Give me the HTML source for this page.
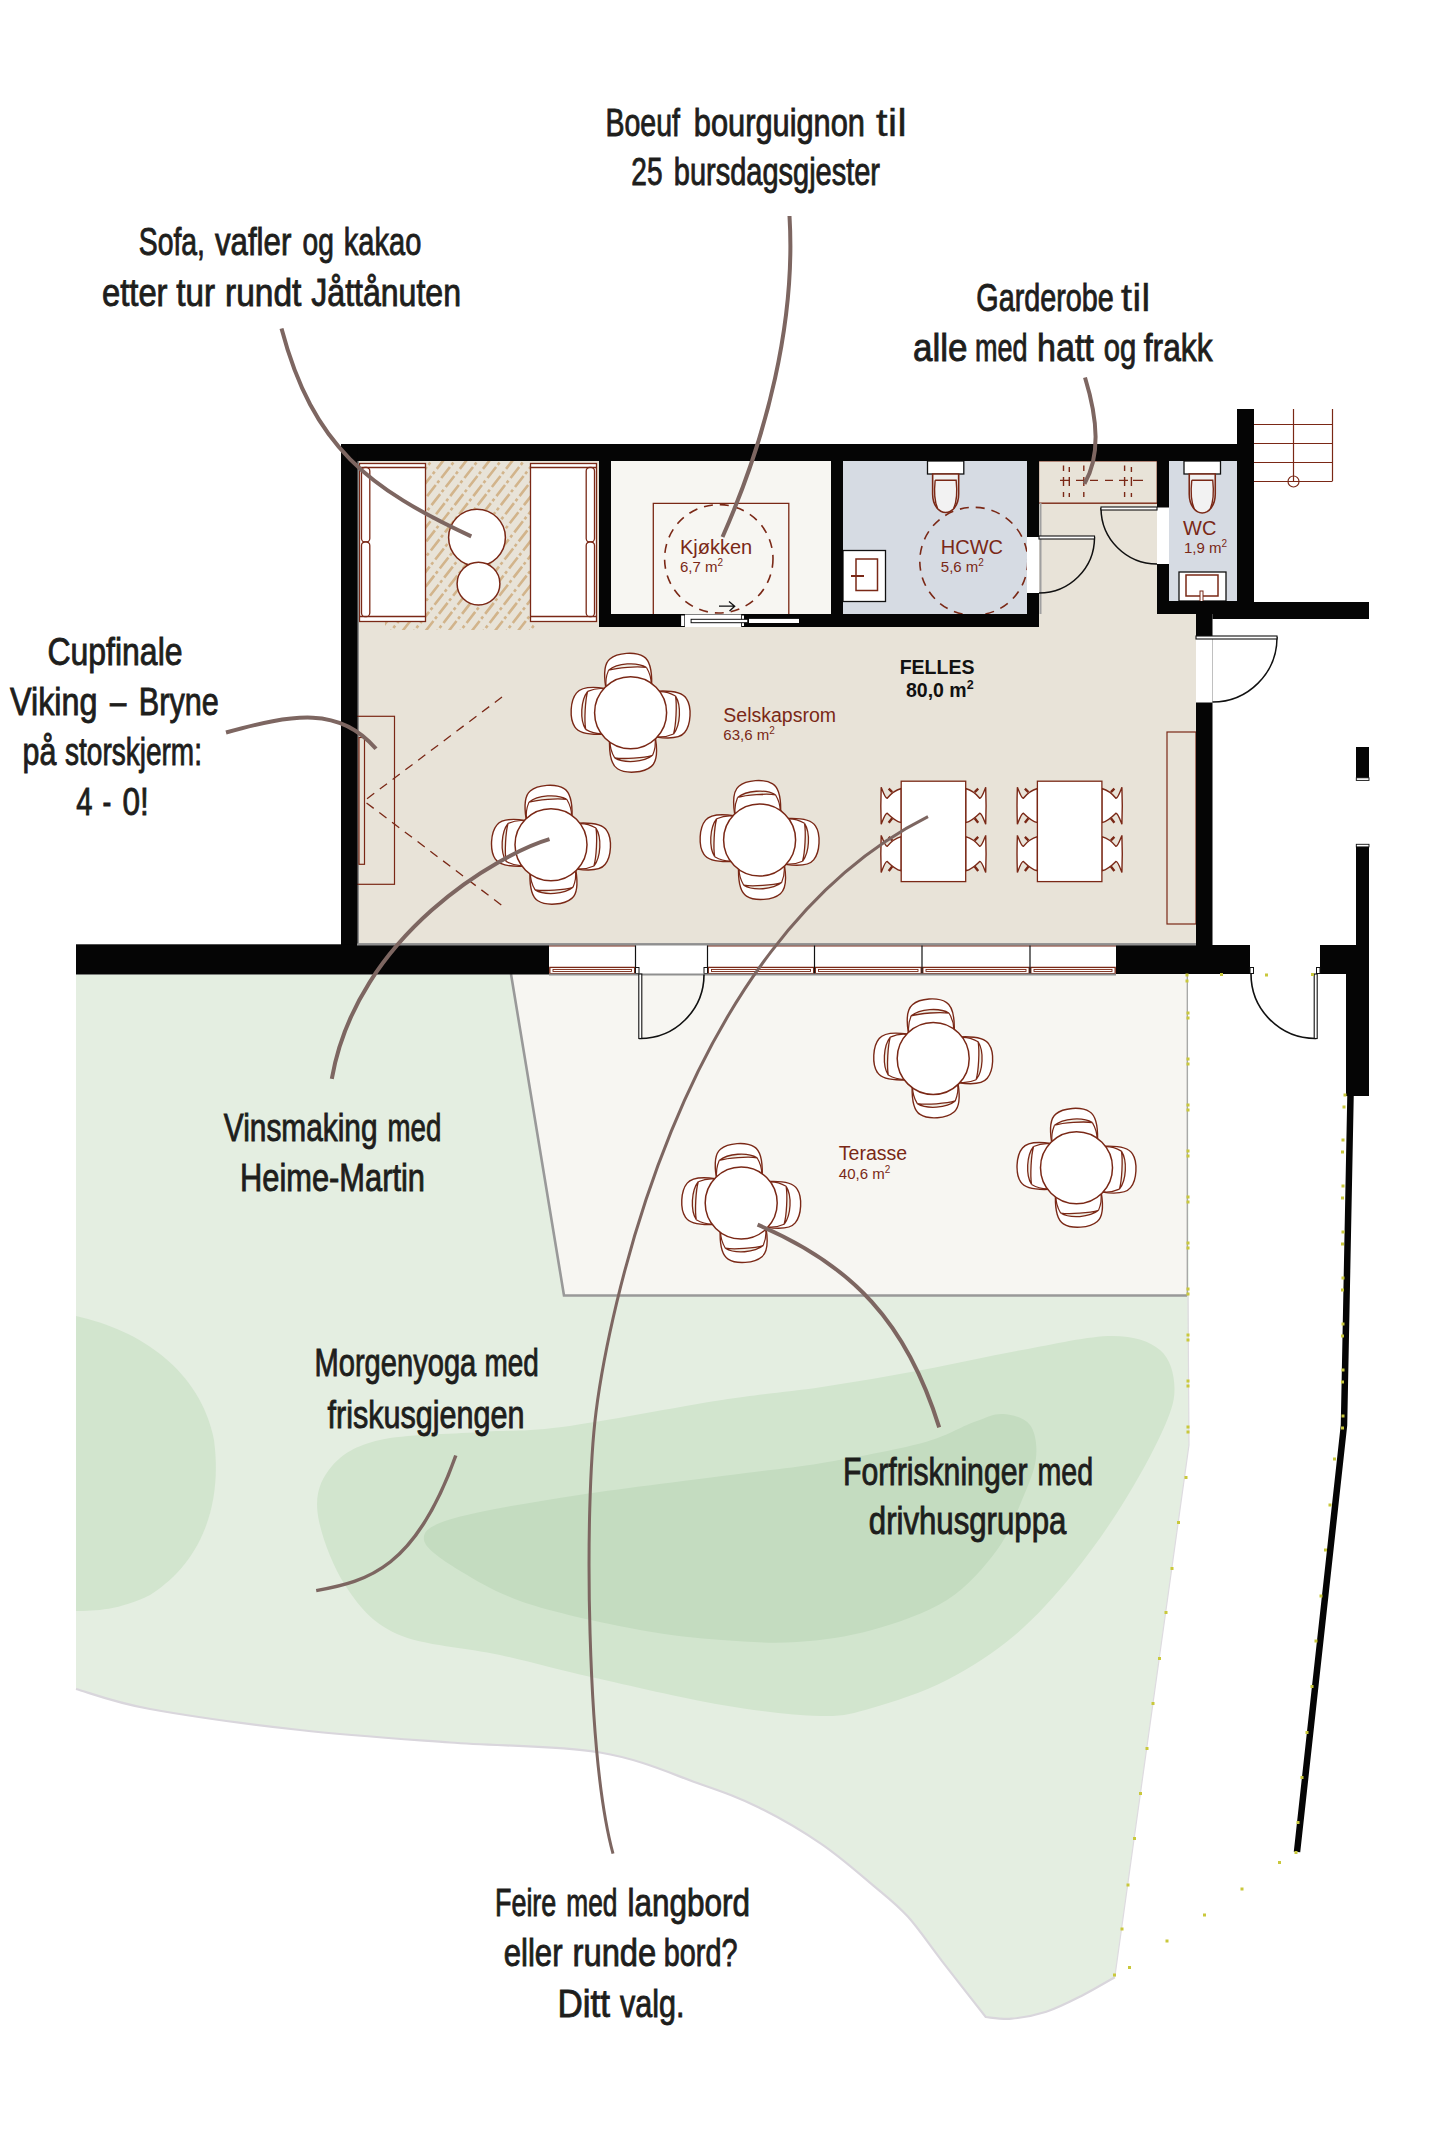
<!DOCTYPE html>
<html><head><meta charset="utf-8"><title>Plan</title>
<style>html,body{margin:0;padding:0;background:#fff;width:1444px;height:2134px;overflow:hidden}svg{display:block}</style>
</head><body>
<svg width="1444" height="2134" viewBox="0 0 1444 2134"><path d="M76,974.5 L1188,974.5 L1189,1445 L1114.8,1977.2  C1109.2,1980.4 1092.3,1990.4 1080.9,1996.2 C1069.5,2002.0 1057.8,2008.0 1046.3,2011.8 C1034.8,2015.5 1021.7,2017.8 1011.6,2018.7 C1001.5,2019.6 990.0,2017.3 985.7,2017.0 L985.7,2017.0 C978.5,2007.8 955.4,1978.3 942.4,1961.6 C929.4,1944.9 919.3,1929.3 907.8,1916.6 C896.2,1903.9 887.5,1897.5 873.1,1885.4 C858.7,1873.3 840.2,1856.9 821.2,1843.9 C802.2,1830.9 779.1,1817.5 758.9,1807.5 C738.7,1797.5 726.5,1793.2 700.0,1784.0 C673.5,1774.8 641.7,1759.4 600.0,1752.5 C558.3,1745.6 500.0,1746.2 450.0,1742.5 C400.0,1738.8 350.0,1735.6 300.0,1730.0 C250.0,1724.4 187.3,1715.8 150.0,1709.0 C112.7,1702.2 88.3,1692.3 76.0,1689.0 Z" fill="#e4eee1"/>
<path d="M1114.8,1977.2 C1109.2,1980.4 1092.3,1990.4 1080.9,1996.2 C1069.5,2002.0 1057.8,2008.0 1046.3,2011.8 C1034.8,2015.5 1021.7,2017.8 1011.6,2018.7 C1001.5,2019.6 990.0,2017.3 985.7,2017.0 L985.7,2017.0 C978.5,2007.8 955.4,1978.3 942.4,1961.6 C929.4,1944.9 919.3,1929.3 907.8,1916.6 C896.2,1903.9 887.5,1897.5 873.1,1885.4 C858.7,1873.3 840.2,1856.9 821.2,1843.9 C802.2,1830.9 779.1,1817.5 758.9,1807.5 C738.7,1797.5 726.5,1793.2 700.0,1784.0 C673.5,1774.8 641.7,1759.4 600.0,1752.5 C558.3,1745.6 500.0,1746.2 450.0,1742.5 C400.0,1738.8 350.0,1735.6 300.0,1730.0 C250.0,1724.4 187.3,1715.8 150.0,1709.0 C112.7,1702.2 88.3,1692.3 76.0,1689.0" fill="none" stroke="#d9d6dc" stroke-width="2.2"/>
<path d="M1188,1295 L1189,1445 L1114.8,1977.2" fill="none" stroke="#dedbe0" stroke-width="1.2"/>
<path d="M76,1316 C140,1330 200,1370 214,1440 C222,1500 205,1560 150,1595 C120,1610 95,1611 76,1611 Z" fill="#d2e5ce"/>
<path d="M317.5,1512.0 C315.3,1492.2 321.6,1478.0 332.0,1466.0 C342.4,1454.0 355.3,1445.7 380.0,1440.0 C404.7,1434.3 449.7,1434.2 480.0,1432.0 C510.3,1429.8 521.7,1432.3 562.0,1427.0 C602.3,1421.7 678.7,1406.7 722.0,1400.0 C765.3,1393.3 788.7,1392.0 822.0,1387.0 C855.3,1382.0 888.7,1376.2 922.0,1370.0 C955.3,1363.8 990.3,1355.7 1022.0,1350.0 C1053.7,1344.3 1089.0,1336.0 1112.0,1336.0 C1135.0,1336.0 1149.6,1341.3 1160.0,1350.0 C1170.4,1358.7 1174.2,1374.3 1174.5,1388.0 C1174.8,1401.7 1170.8,1412.5 1162.0,1432.0 C1153.2,1451.5 1137.0,1481.2 1122.0,1505.0 C1107.0,1528.8 1089.8,1553.3 1072.0,1575.0 C1054.2,1596.7 1035.8,1617.5 1015.0,1635.0 C994.2,1652.5 970.8,1667.8 947.0,1680.0 C923.2,1692.2 893.2,1702.0 872.0,1708.0 C850.8,1714.0 845.0,1716.5 820.0,1716.0 C795.0,1715.5 760.2,1711.5 722.0,1705.0 C683.8,1698.5 628.0,1685.3 591.0,1677.0 C554.0,1668.7 532.3,1662.2 500.0,1655.0 C467.7,1647.8 422.8,1645.7 397.0,1634.0 C371.2,1622.3 358.2,1605.3 345.0,1585.0 C331.8,1564.7 319.7,1531.8 317.5,1512.0 Z" fill="#d2e5ce"/>
<path d="M424.0,1540.0 C422.8,1531.0 429.2,1525.5 455.0,1518.0 C480.8,1510.5 531.7,1502.3 579.0,1495.0 C626.3,1487.7 698.1,1479.3 738.6,1474.0 C779.1,1468.7 791.4,1468.2 822.0,1463.0 C852.6,1457.8 896.7,1449.8 922.0,1443.0 C947.3,1436.2 960.5,1426.8 974.0,1422.0 C987.5,1417.2 993.7,1413.5 1003.0,1414.0 C1012.3,1414.5 1024.5,1417.7 1030.0,1425.0 C1035.5,1432.3 1037.3,1445.5 1036.0,1458.0 C1034.7,1470.5 1028.5,1484.7 1022.0,1500.0 C1015.5,1515.3 1009.5,1533.3 997.0,1550.0 C984.5,1566.7 967.8,1586.7 947.0,1600.0 C926.2,1613.3 897.0,1623.0 872.0,1630.0 C847.0,1637.0 822.0,1640.3 797.0,1642.0 C772.0,1643.7 748.2,1642.0 722.0,1640.0 C695.8,1638.0 672.2,1636.0 640.0,1630.0 C607.8,1624.0 558.7,1613.7 529.0,1604.0 C499.3,1594.3 479.5,1582.7 462.0,1572.0 C444.5,1561.3 425.2,1549.0 424.0,1540.0 Z" fill="#c4dcc0"/>
<path d="M511,974 L1187,974 L1187,1295.5 L564,1295.5 Z" fill="#f7f6f2"/>
<path d="M511,974 L564,1295.5 L1187,1295.5" fill="none" stroke="#999" stroke-width="2.6"/>
<path d="M1187.3,974 L1187.3,1295.5" fill="none" stroke="#a5a5a5" stroke-width="1.3"/>
<path d="M357,461 L599,461 L599,627 L1039,627 L1039,461 L1157,461 L1157,614 L1196,614 L1196,944 L357,944 Z" fill="#e8e3d8"/>
<rect x="611" y="461" width="220" height="153" fill="#f7f6f2" />
<rect x="843" y="461" width="184" height="153" fill="#d6dbe3" />
<rect x="1169" y="461" width="68" height="140" fill="#d6dbe3" />
<line x1="357" y1="944" x2="1196" y2="944" stroke="#9a9a9a" stroke-width="2"/>
<defs><clipPath id="rugclip"><path d="M425,461 L531,461 L531,621 L537,630 L385,630 L385,621 L425,621 Z"/></clipPath></defs>
<g clip-path="url(#rugclip)" stroke="#d2b48b" stroke-width="2.6" stroke-dasharray="14 2.6 3 3.4" fill="none"><path d="M240.0,632 L375.2,459" stroke-dashoffset="0.0"/><path d="M251.6,632 L386.8,459" stroke-dashoffset="11.5"/><path d="M263.1,632 L398.3,459" stroke-dashoffset="0.0"/><path d="M274.7,632 L409.9,459" stroke-dashoffset="11.5"/><path d="M286.2,632 L421.4,459" stroke-dashoffset="0.0"/><path d="M297.8,632 L433.0,459" stroke-dashoffset="11.5"/><path d="M309.3,632 L444.5,459" stroke-dashoffset="0.0"/><path d="M320.9,632 L456.1,459" stroke-dashoffset="11.5"/><path d="M332.4,632 L467.6,459" stroke-dashoffset="0.0"/><path d="M344.0,632 L479.2,459" stroke-dashoffset="11.5"/><path d="M355.5,632 L490.7,459" stroke-dashoffset="0.0"/><path d="M367.1,632 L502.3,459" stroke-dashoffset="11.5"/><path d="M378.6,632 L513.8,459" stroke-dashoffset="0.0"/><path d="M390.2,632 L525.4,459" stroke-dashoffset="11.5"/><path d="M401.7,632 L536.9,459" stroke-dashoffset="0.0"/><path d="M413.3,632 L548.5,459" stroke-dashoffset="11.5"/><path d="M424.8,632 L560.0,459" stroke-dashoffset="0.0"/><path d="M436.4,632 L571.6,459" stroke-dashoffset="11.5"/><path d="M447.9,632 L583.1,459" stroke-dashoffset="0.0"/><path d="M459.5,632 L594.7,459" stroke-dashoffset="11.5"/><path d="M471.0,632 L606.2,459" stroke-dashoffset="0.0"/><path d="M482.6,632 L617.8,459" stroke-dashoffset="11.5"/><path d="M494.1,632 L629.3,459" stroke-dashoffset="0.0"/><path d="M505.7,632 L640.9,459" stroke-dashoffset="11.5"/><path d="M517.2,632 L652.4,459" stroke-dashoffset="0.0"/><path d="M528.8,632 L664.0,459" stroke-dashoffset="11.5"/><path d="M540.3,632 L675.5,459" stroke-dashoffset="0.0"/><path d="M551.9,632 L687.1,459" stroke-dashoffset="11.5"/></g>
<rect x="359.5" y="463.5" width="66.0" height="158" fill="#fff" stroke="#7a2816" stroke-width="1.3"/>
<path d="M359.5,467.5 L425.5,467.5 M359.5,616.5 L425.5,616.5" stroke="#7a2816" stroke-width="1.3"/>
<rect x="361.5" y="467.5" width="8.3" height="74.5" rx="3.5" fill="#fff" stroke="#7a2816" stroke-width="1.3"/>
<rect x="361.5" y="542" width="8.3" height="74.5" rx="3.5" fill="#fff" stroke="#7a2816" stroke-width="1.3"/>
<rect x="530.5" y="463.5" width="66.0" height="158" fill="#fff" stroke="#7a2816" stroke-width="1.3"/>
<path d="M530.5,467.5 L596.5,467.5 M530.5,616.5 L596.5,616.5" stroke="#7a2816" stroke-width="1.3"/>
<rect x="586.2" y="467.5" width="8.3" height="74.5" rx="3.5" fill="#fff" stroke="#7a2816" stroke-width="1.3"/>
<rect x="586.2" y="542" width="8.3" height="74.5" rx="3.5" fill="#fff" stroke="#7a2816" stroke-width="1.3"/>
<rect x="357" y="461" width="2" height="483" fill="#8f8f8f"/>
<circle cx="477" cy="537.6" r="28.4" fill="#fff" stroke="#7a2816" stroke-width="1.5"/>
<circle cx="478.5" cy="583.7" r="21.4" fill="#fff" stroke="#7a2816" stroke-width="1.5"/>
<path d="M653.3,614 L653.3,503.3 L788.8,503.3 L788.8,614" fill="none" stroke="#7a2816" stroke-width="1.3"/>
<circle cx="718.8" cy="558.8" r="54.2" fill="none" stroke="#7a2816" stroke-width="1.6" stroke-dasharray="9 7"/>
<path d="M719,606.2 L734.7,606.2 M729,601.5 L734.7,606.2 L729.5,611" fill="none" stroke="#111" stroke-width="1.3"/>
<circle cx="973.8" cy="561.3" r="54" fill="none" stroke="#7a2816" stroke-width="1.6" stroke-dasharray="9 7"/>
<rect x="927.5" y="461" width="36.3" height="13" fill="#fff" stroke="#111" stroke-width="1.3" />
<path d="M932.65,474 L932.65,494 C932.65,505 938.65,512.5 945.65,512.5 C952.65,512.5 958.65,505 958.65,494 L958.65,474 Z" fill="#f2f2f2" stroke="#7a2816" stroke-width="1.6"/>
<path d="M935.15,480.3 L956.15,480.3 C957.15,490 957.65,500 953.65,508.5 M935.15,480.3 C934.15,490 933.65,500 937.65,508.5" fill="none" stroke="#7a2816" stroke-width="1.4"/>
<rect x="1184" y="461" width="36.5" height="13" fill="#fff" stroke="#111" stroke-width="1.3" />
<path d="M1189.25,474 L1189.25,494 C1189.25,505 1195.25,513 1202.25,513 C1209.25,513 1215.25,505 1215.25,494 L1215.25,474 Z" fill="#f2f2f2" stroke="#7a2816" stroke-width="1.6"/>
<path d="M1191.75,480.3 L1212.75,480.3 C1213.75,490 1214.25,500 1210.25,509 M1191.75,480.3 C1190.75,490 1190.25,500 1194.25,509" fill="none" stroke="#7a2816" stroke-width="1.4"/>
<rect x="843" y="550.5" width="42.5" height="51.0" fill="#fff" stroke="#111" stroke-width="1.3" />
<rect x="856" y="559" width="21.5" height="31.5" fill="none" stroke="#7a2816" stroke-width="1.5" />
<line x1="851" y1="576" x2="864" y2="576" stroke="#7a2816" stroke-width="2"/>
<rect x="1179" y="572" width="47" height="29" fill="#fff" stroke="#111" stroke-width="1.3" />
<rect x="1186" y="575" width="32" height="21" fill="none" stroke="#7a2816" stroke-width="1.5" />
<rect x="1200" y="591" width="3" height="11" fill="#fff" stroke="#7a2816" stroke-width="1"/>
<rect x="1038.5" y="460.8" width="118.8" height="42.4" fill="#e8e3d8" stroke="#7a2816" stroke-width="1.4" />
<rect x="1039.5" y="503" width="2" height="111" fill="#a0a0a0"/>
<path d="M1063.5,465.5 L1063.5,471 M1063.5,477 L1063.5,486 M1063.5,492 L1063.5,497 M1083.8,465.5 L1083.8,471 M1083.8,477 L1083.8,486 M1083.8,492 L1083.8,497 M1124.6,465.5 L1124.6,471 M1124.6,477 L1124.6,486 M1124.6,492 L1124.6,497 M1069.3,467 L1069.3,472 M1069.3,477 L1069.3,486 M1069.3,493 L1069.3,497 M1131.4,467 L1131.4,472 M1131.4,477 L1131.4,486 M1131.4,493 L1131.4,497 M1060,480.4 L1070,480.4 M1076,480.4 L1085,480.4 M1090,480.4 L1098,480.4 M1105,480.4 L1113,480.4 M1119,480.4 L1128,480.4 M1133,480.4 L1143,480.4 " stroke="#7a2816" stroke-width="1.4" fill="none"/>
<rect x="356.5" y="716.3" width="38.0" height="168.0" fill="none" stroke="#7a2816" stroke-width="1.2" />
<rect x="359" y="737.5" width="5.5" height="126.8" fill="none" stroke="#7a2816" stroke-width="1.2" />
<path d="M502,697 L364,801 L502,905.5" fill="none" stroke="#7a2816" stroke-width="1.3" stroke-dasharray="9 7"/>
<rect x="1167" y="732" width="29" height="192" fill="none" stroke="#7a2816" stroke-width="1.2" />
<rect x="341" y="444" width="896" height="17" fill="#050505" />
<rect x="1237" y="409" width="17" height="210" fill="#050505" />
<rect x="1212.5" y="602" width="156.5" height="17" fill="#050505" />
<rect x="341" y="444" width="16.5" height="530" fill="#050505" />
<rect x="76" y="944.3" width="473" height="30.2" fill="#050505" />
<rect x="1116" y="945" width="134" height="29" fill="#050505" />
<rect x="1320" y="945" width="49" height="29" fill="#050505" />
<rect x="599" y="461" width="12" height="166" fill="#050505" />
<rect x="599" y="614" width="440" height="13" fill="#050505" />
<rect x="831" y="461" width="12" height="166" fill="#050505" />
<rect x="1027" y="461" width="12" height="166" fill="#050505" />
<rect x="1157" y="461" width="12" height="153" fill="#050505" />
<rect x="1157" y="601" width="80" height="13" fill="#050505" />
<rect x="1196" y="614" width="16.5" height="331" fill="#050505" />
<rect x="1356" y="747" width="13" height="31" fill="#050505" />
<rect x="1356" y="846" width="13" height="99" fill="#050505" />
<rect x="1356.3" y="777.8" width="12.7" height="2.6" fill="#fff" stroke="#111" stroke-width="0.9"/>
<rect x="1356.3" y="844.3" width="12.7" height="2.6" fill="#fff" stroke="#111" stroke-width="0.9"/>
<rect x="1346" y="974" width="23" height="122" fill="#050505" />
<path d="M1350.5,1096 L1344,1425 L1297,1852" fill="none" stroke="#050505" stroke-width="6.5"/>
<rect x="1027" y="537" width="12" height="56" fill="#fff" />
<rect x="1157" y="507.5" width="12" height="56.5" fill="#fff" />
<rect x="1196" y="636" width="16.5" height="66.5" fill="#fff" />
<rect x="684.9" y="614.5" width="56.3" height="12.5" fill="#fff" />
<rect x="681.1" y="615.5" width="3.2" height="10.5" fill="#fff" />
<rect x="742" y="615.5" width="2" height="10.5" fill="#fff" />
<rect x="691.1" y="619.3" width="56.7" height="3.4" fill="#fff" stroke="#111" stroke-width="1"/>
<rect x="749" y="618.9" width="50" height="4.1" fill="#fff" />
<path d="M1039,537.5 L1094.5,537.5 A55.5,55.5 0 0 1 1039,593" fill="none" stroke="#111" stroke-width="1.5"/>
<rect x="1039" y="536" width="55.5" height="3" fill="#fff" stroke="#111" stroke-width="1.1"/>
<path d="M1157,508.5 L1101,508.5 A56,56 0 0 0 1157,564" fill="none" stroke="#111" stroke-width="1.5"/>
<rect x="1101" y="507" width="56" height="3" fill="#fff" stroke="#111" stroke-width="1.1"/>
<path d="M1212.5,637.5 L1277,637.5 A64.5,64.5 0 0 1 1212.5,702" fill="none" stroke="#111" stroke-width="1.5"/>
<rect x="1196" y="636" width="81" height="3" fill="#fff" stroke="#111" stroke-width="1.1"/>
<rect x="549" y="944" width="567" height="30" fill="#fff" />
<line x1="549" y1="945.8" x2="635.5" y2="945.8" stroke="#7a2816" stroke-width="1.3"/>
<rect x="549.8" y="967.4" width="84.9" height="6.2" fill="#fff" stroke="#7a2816" stroke-width="1.3"/>
<rect x="553" y="969.5" width="78.5" height="2" fill="none" stroke="#7a2816" stroke-width="0.9"/>
<line x1="707.5" y1="945.8" x2="814.5" y2="945.8" stroke="#7a2816" stroke-width="1.3"/>
<rect x="708.3" y="967.4" width="105.4" height="6.2" fill="#fff" stroke="#7a2816" stroke-width="1.3"/>
<rect x="711.5" y="969.5" width="99.0" height="2" fill="none" stroke="#7a2816" stroke-width="0.9"/>
<line x1="814.5" y1="945.8" x2="922" y2="945.8" stroke="#7a2816" stroke-width="1.3"/>
<rect x="815.3" y="967.4" width="105.9" height="6.2" fill="#fff" stroke="#7a2816" stroke-width="1.3"/>
<rect x="818.5" y="969.5" width="99.5" height="2" fill="none" stroke="#7a2816" stroke-width="0.9"/>
<line x1="922" y1="945.8" x2="1030" y2="945.8" stroke="#7a2816" stroke-width="1.3"/>
<rect x="922.8" y="967.4" width="106.4" height="6.2" fill="#fff" stroke="#7a2816" stroke-width="1.3"/>
<rect x="926" y="969.5" width="100" height="2" fill="none" stroke="#7a2816" stroke-width="0.9"/>
<line x1="1030" y1="945.8" x2="1116" y2="945.8" stroke="#7a2816" stroke-width="1.3"/>
<rect x="1030.8" y="967.4" width="84.4" height="6.2" fill="#fff" stroke="#7a2816" stroke-width="1.3"/>
<rect x="1034" y="969.5" width="78" height="2" fill="none" stroke="#7a2816" stroke-width="0.9"/>
<line x1="635.5" y1="944" x2="635.5" y2="974" stroke="#111" stroke-width="1.2"/>
<line x1="707.5" y1="944" x2="707.5" y2="974" stroke="#111" stroke-width="1.2"/>
<line x1="814.5" y1="944" x2="814.5" y2="974" stroke="#111" stroke-width="1.2"/>
<line x1="922" y1="944" x2="922" y2="974" stroke="#111" stroke-width="1.2"/>
<line x1="1030" y1="944" x2="1030" y2="974" stroke="#111" stroke-width="1.2"/>
<rect x="635.5" y="967.5" width="3.5" height="6" fill="#fff" stroke="#111" stroke-width="1"/>
<rect x="704" y="967.5" width="3.5" height="6" fill="#fff" stroke="#111" stroke-width="1"/>
<line x1="357" y1="944.5" x2="1196" y2="944.5" stroke="#8f8f8f" stroke-width="2"/>
<line x1="549" y1="974.5" x2="1116" y2="974.5" stroke="#8f8f8f" stroke-width="2"/>
<path d="M640,974 L640,1038.5 A64,64 0 0 0 704,974.5" fill="none" stroke="#111" stroke-width="1.6"/>
<rect x="638.8" y="974" width="3" height="64.5" fill="#fff" stroke="#111" stroke-width="1.1"/>
<path d="M1315.5,974 L1315.5,1038.5 A64.5,64.5 0 0 1 1251,974" fill="none" stroke="#111" stroke-width="1.6"/>
<rect x="1314.2" y="974" width="3" height="64.5" fill="#fff" stroke="#111" stroke-width="1.1"/>
<rect x="1250" y="967.5" width="3.5" height="6" fill="#fff" stroke="#111" stroke-width="1"/>
<rect x="1316.5" y="967.5" width="3.5" height="6" fill="#fff" stroke="#111" stroke-width="1"/>
<line x1="1254" y1="424.5" x2="1332.5" y2="424.5" stroke="#7a2816" stroke-width="1.2"/>
<line x1="1254" y1="443.5" x2="1332.5" y2="443.5" stroke="#7a2816" stroke-width="1.2"/>
<line x1="1254" y1="462.5" x2="1332.5" y2="462.5" stroke="#7a2816" stroke-width="1.2"/>
<line x1="1254" y1="481.5" x2="1332.5" y2="481.5" stroke="#7a2816" stroke-width="1.2"/>
<line x1="1293.5" y1="409" x2="1293.5" y2="481" stroke="#7a2816" stroke-width="1.2"/><line x1="1332.5" y1="409" x2="1332.5" y2="481" stroke="#7a2816" stroke-width="1.2"/>
<circle cx="1293.5" cy="481.5" r="5.5" fill="none" stroke="#7a2816" stroke-width="1.2"/>
<g fill="#c9c83c"><rect x="1185.5" y="973.5" width="3" height="3"/><rect x="1185.5" y="979.5" width="3" height="3"/><rect x="1220.0" y="973.0" width="3" height="3"/><rect x="1265.0" y="973.5" width="3" height="3"/><rect x="1311.0" y="973.0" width="3" height="3"/><rect x="1343.5" y="1093.5" width="3" height="3"/><rect x="1342.5" y="1105.5" width="3" height="3"/><rect x="1186.5" y="1011.5" width="3" height="3"/><rect x="1186.5" y="1016.5" width="3" height="3"/><rect x="1186.5" y="1057.5" width="3" height="3"/><rect x="1186.5" y="1062.5" width="3" height="3"/><rect x="1186.5" y="1103.5" width="3" height="3"/><rect x="1186.5" y="1108.5" width="3" height="3"/><rect x="1186.5" y="1149.5" width="3" height="3"/><rect x="1186.5" y="1154.5" width="3" height="3"/><rect x="1186.5" y="1195.5" width="3" height="3"/><rect x="1186.5" y="1200.5" width="3" height="3"/><rect x="1186.5" y="1241.5" width="3" height="3"/><rect x="1186.5" y="1246.5" width="3" height="3"/><rect x="1186.5" y="1287.5" width="3" height="3"/><rect x="1186.5" y="1292.5" width="3" height="3"/><rect x="1186.5" y="1333.5" width="3" height="3"/><rect x="1186.5" y="1338.5" width="3" height="3"/><rect x="1186.5" y="1379.5" width="3" height="3"/><rect x="1186.5" y="1384.5" width="3" height="3"/><rect x="1186.5" y="1425.5" width="3" height="3"/><rect x="1186.5" y="1430.5" width="3" height="3"/><rect x="1341.5" y="1138.5" width="3" height="3"/><rect x="1341.0" y="1150.5" width="3" height="3"/><rect x="1341.5" y="1184.5" width="3" height="3"/><rect x="1341.0" y="1196.5" width="3" height="3"/><rect x="1341.5" y="1230.5" width="3" height="3"/><rect x="1341.0" y="1242.5" width="3" height="3"/><rect x="1341.5" y="1276.5" width="3" height="3"/><rect x="1341.0" y="1288.5" width="3" height="3"/><rect x="1341.5" y="1322.5" width="3" height="3"/><rect x="1341.0" y="1334.5" width="3" height="3"/><rect x="1341.5" y="1368.5" width="3" height="3"/><rect x="1341.0" y="1380.5" width="3" height="3"/><rect x="1341.5" y="1414.5" width="3" height="3"/><rect x="1341.0" y="1426.5" width="3" height="3"/><rect x="1184.5" y="1476.0" width="3" height="3"/><rect x="1177.0" y="1521.0" width="3" height="3"/><rect x="1170.5" y="1567.0" width="3" height="3"/><rect x="1164.5" y="1611.0" width="3" height="3"/><rect x="1158.0" y="1657.0" width="3" height="3"/><rect x="1151.5" y="1702.0" width="3" height="3"/><rect x="1145.5" y="1747.0" width="3" height="3"/><rect x="1139.0" y="1792.0" width="3" height="3"/><rect x="1133.0" y="1837.0" width="3" height="3"/><rect x="1126.5" y="1883.5" width="3" height="3"/><rect x="1120.5" y="1927.5" width="3" height="3"/><rect x="1113.0" y="1973.5" width="3" height="3"/><rect x="1333.0" y="1457.5" width="3" height="3"/><rect x="1328.5" y="1503.5" width="3" height="3"/><rect x="1324.0" y="1548.5" width="3" height="3"/><rect x="1319.5" y="1594.5" width="3" height="3"/><rect x="1314.5" y="1639.5" width="3" height="3"/><rect x="1310.5" y="1685.0" width="3" height="3"/><rect x="1305.5" y="1731.0" width="3" height="3"/><rect x="1300.5" y="1776.0" width="3" height="3"/><rect x="1296.5" y="1821.0" width="3" height="3"/><rect x="1294.5" y="1851.0" width="3" height="3"/><rect x="1278.0" y="1861.0" width="3" height="3"/><rect x="1240.5" y="1887.5" width="3" height="3"/><rect x="1203.0" y="1913.5" width="3" height="3"/><rect x="1165.5" y="1939.5" width="3" height="3"/><rect x="1128.0" y="1966.0" width="3" height="3"/></g>
<g transform="translate(630.6,712.7) rotate(0)"><g transform="rotate(-4)"><path d="M-23,-27 C-24,-38 -24,-50 -17,-55 C-9,-61 9,-61 17,-55 C24,-50 24,-38 23,-27 Z" fill="#fff" stroke="#7a2816" stroke-width="1.4"/><path d="M-19,-44 C-10,-50.5 10,-50.5 19,-44 C10,-46 -10,-46 -19,-44 Z" fill="#f0efe6" stroke="#7a2816" stroke-width="1.3"/><path d="M-19,-44 C-22,-38 -23,-32 -22.5,-27 M19,-44 C22,-38 23,-32 22.5,-27" fill="none" stroke="#7a2816" stroke-width="1.2"/></g><g transform="rotate(93)"><path d="M-23,-27 C-24,-38 -24,-50 -17,-55 C-9,-61 9,-61 17,-55 C24,-50 24,-38 23,-27 Z" fill="#fff" stroke="#7a2816" stroke-width="1.4"/><path d="M-19,-44 C-10,-50.5 10,-50.5 19,-44 C10,-46 -10,-46 -19,-44 Z" fill="#f0efe6" stroke="#7a2816" stroke-width="1.3"/><path d="M-19,-44 C-22,-38 -23,-32 -22.5,-27 M19,-44 C22,-38 23,-32 22.5,-27" fill="none" stroke="#7a2816" stroke-width="1.2"/></g><g transform="rotate(176)"><path d="M-23,-27 C-24,-38 -24,-50 -17,-55 C-9,-61 9,-61 17,-55 C24,-50 24,-38 23,-27 Z" fill="#fff" stroke="#7a2816" stroke-width="1.4"/><path d="M-19,-44 C-10,-50.5 10,-50.5 19,-44 C10,-46 -10,-46 -19,-44 Z" fill="#f0efe6" stroke="#7a2816" stroke-width="1.3"/><path d="M-19,-44 C-22,-38 -23,-32 -22.5,-27 M19,-44 C22,-38 23,-32 22.5,-27" fill="none" stroke="#7a2816" stroke-width="1.2"/></g><g transform="rotate(273)"><path d="M-23,-27 C-24,-38 -24,-50 -17,-55 C-9,-61 9,-61 17,-55 C24,-50 24,-38 23,-27 Z" fill="#fff" stroke="#7a2816" stroke-width="1.4"/><path d="M-19,-44 C-10,-50.5 10,-50.5 19,-44 C10,-46 -10,-46 -19,-44 Z" fill="#f0efe6" stroke="#7a2816" stroke-width="1.3"/><path d="M-19,-44 C-22,-38 -23,-32 -22.5,-27 M19,-44 C22,-38 23,-32 22.5,-27" fill="none" stroke="#7a2816" stroke-width="1.2"/></g><circle cx="0" cy="0" r="36" fill="#fff" stroke="#7a2816" stroke-width="1.5"/></g>
<g transform="translate(551,844.7) rotate(0)"><g transform="rotate(-4)"><path d="M-23,-27 C-24,-38 -24,-50 -17,-55 C-9,-61 9,-61 17,-55 C24,-50 24,-38 23,-27 Z" fill="#fff" stroke="#7a2816" stroke-width="1.4"/><path d="M-19,-44 C-10,-50.5 10,-50.5 19,-44 C10,-46 -10,-46 -19,-44 Z" fill="#f0efe6" stroke="#7a2816" stroke-width="1.3"/><path d="M-19,-44 C-22,-38 -23,-32 -22.5,-27 M19,-44 C22,-38 23,-32 22.5,-27" fill="none" stroke="#7a2816" stroke-width="1.2"/></g><g transform="rotate(93)"><path d="M-23,-27 C-24,-38 -24,-50 -17,-55 C-9,-61 9,-61 17,-55 C24,-50 24,-38 23,-27 Z" fill="#fff" stroke="#7a2816" stroke-width="1.4"/><path d="M-19,-44 C-10,-50.5 10,-50.5 19,-44 C10,-46 -10,-46 -19,-44 Z" fill="#f0efe6" stroke="#7a2816" stroke-width="1.3"/><path d="M-19,-44 C-22,-38 -23,-32 -22.5,-27 M19,-44 C22,-38 23,-32 22.5,-27" fill="none" stroke="#7a2816" stroke-width="1.2"/></g><g transform="rotate(176)"><path d="M-23,-27 C-24,-38 -24,-50 -17,-55 C-9,-61 9,-61 17,-55 C24,-50 24,-38 23,-27 Z" fill="#fff" stroke="#7a2816" stroke-width="1.4"/><path d="M-19,-44 C-10,-50.5 10,-50.5 19,-44 C10,-46 -10,-46 -19,-44 Z" fill="#f0efe6" stroke="#7a2816" stroke-width="1.3"/><path d="M-19,-44 C-22,-38 -23,-32 -22.5,-27 M19,-44 C22,-38 23,-32 22.5,-27" fill="none" stroke="#7a2816" stroke-width="1.2"/></g><g transform="rotate(273)"><path d="M-23,-27 C-24,-38 -24,-50 -17,-55 C-9,-61 9,-61 17,-55 C24,-50 24,-38 23,-27 Z" fill="#fff" stroke="#7a2816" stroke-width="1.4"/><path d="M-19,-44 C-10,-50.5 10,-50.5 19,-44 C10,-46 -10,-46 -19,-44 Z" fill="#f0efe6" stroke="#7a2816" stroke-width="1.3"/><path d="M-19,-44 C-22,-38 -23,-32 -22.5,-27 M19,-44 C22,-38 23,-32 22.5,-27" fill="none" stroke="#7a2816" stroke-width="1.2"/></g><circle cx="0" cy="0" r="36" fill="#fff" stroke="#7a2816" stroke-width="1.5"/></g>
<g transform="translate(759.6,840) rotate(0)"><g transform="rotate(-4)"><path d="M-23,-27 C-24,-38 -24,-50 -17,-55 C-9,-61 9,-61 17,-55 C24,-50 24,-38 23,-27 Z" fill="#fff" stroke="#7a2816" stroke-width="1.4"/><path d="M-19,-44 C-10,-50.5 10,-50.5 19,-44 C10,-46 -10,-46 -19,-44 Z" fill="#f0efe6" stroke="#7a2816" stroke-width="1.3"/><path d="M-19,-44 C-22,-38 -23,-32 -22.5,-27 M19,-44 C22,-38 23,-32 22.5,-27" fill="none" stroke="#7a2816" stroke-width="1.2"/></g><g transform="rotate(93)"><path d="M-23,-27 C-24,-38 -24,-50 -17,-55 C-9,-61 9,-61 17,-55 C24,-50 24,-38 23,-27 Z" fill="#fff" stroke="#7a2816" stroke-width="1.4"/><path d="M-19,-44 C-10,-50.5 10,-50.5 19,-44 C10,-46 -10,-46 -19,-44 Z" fill="#f0efe6" stroke="#7a2816" stroke-width="1.3"/><path d="M-19,-44 C-22,-38 -23,-32 -22.5,-27 M19,-44 C22,-38 23,-32 22.5,-27" fill="none" stroke="#7a2816" stroke-width="1.2"/></g><g transform="rotate(176)"><path d="M-23,-27 C-24,-38 -24,-50 -17,-55 C-9,-61 9,-61 17,-55 C24,-50 24,-38 23,-27 Z" fill="#fff" stroke="#7a2816" stroke-width="1.4"/><path d="M-19,-44 C-10,-50.5 10,-50.5 19,-44 C10,-46 -10,-46 -19,-44 Z" fill="#f0efe6" stroke="#7a2816" stroke-width="1.3"/><path d="M-19,-44 C-22,-38 -23,-32 -22.5,-27 M19,-44 C22,-38 23,-32 22.5,-27" fill="none" stroke="#7a2816" stroke-width="1.2"/></g><g transform="rotate(273)"><path d="M-23,-27 C-24,-38 -24,-50 -17,-55 C-9,-61 9,-61 17,-55 C24,-50 24,-38 23,-27 Z" fill="#fff" stroke="#7a2816" stroke-width="1.4"/><path d="M-19,-44 C-10,-50.5 10,-50.5 19,-44 C10,-46 -10,-46 -19,-44 Z" fill="#f0efe6" stroke="#7a2816" stroke-width="1.3"/><path d="M-19,-44 C-22,-38 -23,-32 -22.5,-27 M19,-44 C22,-38 23,-32 22.5,-27" fill="none" stroke="#7a2816" stroke-width="1.2"/></g><circle cx="0" cy="0" r="36" fill="#fff" stroke="#7a2816" stroke-width="1.5"/></g>
<g transform="translate(933.2,1058.4) rotate(0)"><g transform="rotate(-4)"><path d="M-23,-27 C-24,-38 -24,-50 -17,-55 C-9,-61 9,-61 17,-55 C24,-50 24,-38 23,-27 Z" fill="#fff" stroke="#7a2816" stroke-width="1.4"/><path d="M-19,-44 C-10,-50.5 10,-50.5 19,-44 C10,-46 -10,-46 -19,-44 Z" fill="#f0efe6" stroke="#7a2816" stroke-width="1.3"/><path d="M-19,-44 C-22,-38 -23,-32 -22.5,-27 M19,-44 C22,-38 23,-32 22.5,-27" fill="none" stroke="#7a2816" stroke-width="1.2"/></g><g transform="rotate(93)"><path d="M-23,-27 C-24,-38 -24,-50 -17,-55 C-9,-61 9,-61 17,-55 C24,-50 24,-38 23,-27 Z" fill="#fff" stroke="#7a2816" stroke-width="1.4"/><path d="M-19,-44 C-10,-50.5 10,-50.5 19,-44 C10,-46 -10,-46 -19,-44 Z" fill="#f0efe6" stroke="#7a2816" stroke-width="1.3"/><path d="M-19,-44 C-22,-38 -23,-32 -22.5,-27 M19,-44 C22,-38 23,-32 22.5,-27" fill="none" stroke="#7a2816" stroke-width="1.2"/></g><g transform="rotate(176)"><path d="M-23,-27 C-24,-38 -24,-50 -17,-55 C-9,-61 9,-61 17,-55 C24,-50 24,-38 23,-27 Z" fill="#fff" stroke="#7a2816" stroke-width="1.4"/><path d="M-19,-44 C-10,-50.5 10,-50.5 19,-44 C10,-46 -10,-46 -19,-44 Z" fill="#f0efe6" stroke="#7a2816" stroke-width="1.3"/><path d="M-19,-44 C-22,-38 -23,-32 -22.5,-27 M19,-44 C22,-38 23,-32 22.5,-27" fill="none" stroke="#7a2816" stroke-width="1.2"/></g><g transform="rotate(273)"><path d="M-23,-27 C-24,-38 -24,-50 -17,-55 C-9,-61 9,-61 17,-55 C24,-50 24,-38 23,-27 Z" fill="#fff" stroke="#7a2816" stroke-width="1.4"/><path d="M-19,-44 C-10,-50.5 10,-50.5 19,-44 C10,-46 -10,-46 -19,-44 Z" fill="#f0efe6" stroke="#7a2816" stroke-width="1.3"/><path d="M-19,-44 C-22,-38 -23,-32 -22.5,-27 M19,-44 C22,-38 23,-32 22.5,-27" fill="none" stroke="#7a2816" stroke-width="1.2"/></g><circle cx="0" cy="0" r="36" fill="#fff" stroke="#7a2816" stroke-width="1.5"/></g>
<g transform="translate(741.2,1203) rotate(0)"><g transform="rotate(-4)"><path d="M-23,-27 C-24,-38 -24,-50 -17,-55 C-9,-61 9,-61 17,-55 C24,-50 24,-38 23,-27 Z" fill="#fff" stroke="#7a2816" stroke-width="1.4"/><path d="M-19,-44 C-10,-50.5 10,-50.5 19,-44 C10,-46 -10,-46 -19,-44 Z" fill="#f0efe6" stroke="#7a2816" stroke-width="1.3"/><path d="M-19,-44 C-22,-38 -23,-32 -22.5,-27 M19,-44 C22,-38 23,-32 22.5,-27" fill="none" stroke="#7a2816" stroke-width="1.2"/></g><g transform="rotate(93)"><path d="M-23,-27 C-24,-38 -24,-50 -17,-55 C-9,-61 9,-61 17,-55 C24,-50 24,-38 23,-27 Z" fill="#fff" stroke="#7a2816" stroke-width="1.4"/><path d="M-19,-44 C-10,-50.5 10,-50.5 19,-44 C10,-46 -10,-46 -19,-44 Z" fill="#f0efe6" stroke="#7a2816" stroke-width="1.3"/><path d="M-19,-44 C-22,-38 -23,-32 -22.5,-27 M19,-44 C22,-38 23,-32 22.5,-27" fill="none" stroke="#7a2816" stroke-width="1.2"/></g><g transform="rotate(176)"><path d="M-23,-27 C-24,-38 -24,-50 -17,-55 C-9,-61 9,-61 17,-55 C24,-50 24,-38 23,-27 Z" fill="#fff" stroke="#7a2816" stroke-width="1.4"/><path d="M-19,-44 C-10,-50.5 10,-50.5 19,-44 C10,-46 -10,-46 -19,-44 Z" fill="#f0efe6" stroke="#7a2816" stroke-width="1.3"/><path d="M-19,-44 C-22,-38 -23,-32 -22.5,-27 M19,-44 C22,-38 23,-32 22.5,-27" fill="none" stroke="#7a2816" stroke-width="1.2"/></g><g transform="rotate(273)"><path d="M-23,-27 C-24,-38 -24,-50 -17,-55 C-9,-61 9,-61 17,-55 C24,-50 24,-38 23,-27 Z" fill="#fff" stroke="#7a2816" stroke-width="1.4"/><path d="M-19,-44 C-10,-50.5 10,-50.5 19,-44 C10,-46 -10,-46 -19,-44 Z" fill="#f0efe6" stroke="#7a2816" stroke-width="1.3"/><path d="M-19,-44 C-22,-38 -23,-32 -22.5,-27 M19,-44 C22,-38 23,-32 22.5,-27" fill="none" stroke="#7a2816" stroke-width="1.2"/></g><circle cx="0" cy="0" r="36" fill="#fff" stroke="#7a2816" stroke-width="1.5"/></g>
<g transform="translate(1076.5,1167.8) rotate(0)"><g transform="rotate(-4)"><path d="M-23,-27 C-24,-38 -24,-50 -17,-55 C-9,-61 9,-61 17,-55 C24,-50 24,-38 23,-27 Z" fill="#fff" stroke="#7a2816" stroke-width="1.4"/><path d="M-19,-44 C-10,-50.5 10,-50.5 19,-44 C10,-46 -10,-46 -19,-44 Z" fill="#f0efe6" stroke="#7a2816" stroke-width="1.3"/><path d="M-19,-44 C-22,-38 -23,-32 -22.5,-27 M19,-44 C22,-38 23,-32 22.5,-27" fill="none" stroke="#7a2816" stroke-width="1.2"/></g><g transform="rotate(93)"><path d="M-23,-27 C-24,-38 -24,-50 -17,-55 C-9,-61 9,-61 17,-55 C24,-50 24,-38 23,-27 Z" fill="#fff" stroke="#7a2816" stroke-width="1.4"/><path d="M-19,-44 C-10,-50.5 10,-50.5 19,-44 C10,-46 -10,-46 -19,-44 Z" fill="#f0efe6" stroke="#7a2816" stroke-width="1.3"/><path d="M-19,-44 C-22,-38 -23,-32 -22.5,-27 M19,-44 C22,-38 23,-32 22.5,-27" fill="none" stroke="#7a2816" stroke-width="1.2"/></g><g transform="rotate(176)"><path d="M-23,-27 C-24,-38 -24,-50 -17,-55 C-9,-61 9,-61 17,-55 C24,-50 24,-38 23,-27 Z" fill="#fff" stroke="#7a2816" stroke-width="1.4"/><path d="M-19,-44 C-10,-50.5 10,-50.5 19,-44 C10,-46 -10,-46 -19,-44 Z" fill="#f0efe6" stroke="#7a2816" stroke-width="1.3"/><path d="M-19,-44 C-22,-38 -23,-32 -22.5,-27 M19,-44 C22,-38 23,-32 22.5,-27" fill="none" stroke="#7a2816" stroke-width="1.2"/></g><g transform="rotate(273)"><path d="M-23,-27 C-24,-38 -24,-50 -17,-55 C-9,-61 9,-61 17,-55 C24,-50 24,-38 23,-27 Z" fill="#fff" stroke="#7a2816" stroke-width="1.4"/><path d="M-19,-44 C-10,-50.5 10,-50.5 19,-44 C10,-46 -10,-46 -19,-44 Z" fill="#f0efe6" stroke="#7a2816" stroke-width="1.3"/><path d="M-19,-44 C-22,-38 -23,-32 -22.5,-27 M19,-44 C22,-38 23,-32 22.5,-27" fill="none" stroke="#7a2816" stroke-width="1.2"/></g><circle cx="0" cy="0" r="36" fill="#fff" stroke="#7a2816" stroke-width="1.5"/></g>
<g transform="translate(880.2,787.2)"><path d="M1,0 C0.5,12 0.5,25 1,37 C3,32 5,26 7,26 C11,30 15,34 21,35.4 L21,1.3 C15,3 11,6 7,11 C5,11 3,5 1,0 Z" fill="#fff" stroke="#7a2816" stroke-width="1.4"/><path d="M8.5,1.5 L12,5 M8.5,35.5 L12,31" stroke="#7a2816" stroke-width="2.4"/></g>
<g transform="translate(986.7,787.2) scale(-1,1)"><path d="M1,0 C0.5,12 0.5,25 1,37 C3,32 5,26 7,26 C11,30 15,34 21,35.4 L21,1.3 C15,3 11,6 7,11 C5,11 3,5 1,0 Z" fill="#fff" stroke="#7a2816" stroke-width="1.4"/><path d="M8.5,1.5 L12,5 M8.5,35.5 L12,31" stroke="#7a2816" stroke-width="2.4"/></g>
<g transform="translate(880.2,835.4)"><path d="M1,0 C0.5,12 0.5,25 1,37 C3,32 5,26 7,26 C11,30 15,34 21,35.4 L21,1.3 C15,3 11,6 7,11 C5,11 3,5 1,0 Z" fill="#fff" stroke="#7a2816" stroke-width="1.4"/><path d="M8.5,1.5 L12,5 M8.5,35.5 L12,31" stroke="#7a2816" stroke-width="2.4"/></g>
<g transform="translate(986.7,835.4) scale(-1,1)"><path d="M1,0 C0.5,12 0.5,25 1,37 C3,32 5,26 7,26 C11,30 15,34 21,35.4 L21,1.3 C15,3 11,6 7,11 C5,11 3,5 1,0 Z" fill="#fff" stroke="#7a2816" stroke-width="1.4"/><path d="M8.5,1.5 L12,5 M8.5,35.5 L12,31" stroke="#7a2816" stroke-width="2.4"/></g>
<rect x="901.2" y="781.2" width="64.5" height="100.4" fill="#fff" stroke="#7a2816" stroke-width="1.3" />
<g transform="translate(1016.4000000000001,787.2)"><path d="M1,0 C0.5,12 0.5,25 1,37 C3,32 5,26 7,26 C11,30 15,34 21,35.4 L21,1.3 C15,3 11,6 7,11 C5,11 3,5 1,0 Z" fill="#fff" stroke="#7a2816" stroke-width="1.4"/><path d="M8.5,1.5 L12,5 M8.5,35.5 L12,31" stroke="#7a2816" stroke-width="2.4"/></g>
<g transform="translate(1122.9,787.2) scale(-1,1)"><path d="M1,0 C0.5,12 0.5,25 1,37 C3,32 5,26 7,26 C11,30 15,34 21,35.4 L21,1.3 C15,3 11,6 7,11 C5,11 3,5 1,0 Z" fill="#fff" stroke="#7a2816" stroke-width="1.4"/><path d="M8.5,1.5 L12,5 M8.5,35.5 L12,31" stroke="#7a2816" stroke-width="2.4"/></g>
<g transform="translate(1016.4000000000001,835.4)"><path d="M1,0 C0.5,12 0.5,25 1,37 C3,32 5,26 7,26 C11,30 15,34 21,35.4 L21,1.3 C15,3 11,6 7,11 C5,11 3,5 1,0 Z" fill="#fff" stroke="#7a2816" stroke-width="1.4"/><path d="M8.5,1.5 L12,5 M8.5,35.5 L12,31" stroke="#7a2816" stroke-width="2.4"/></g>
<g transform="translate(1122.9,835.4) scale(-1,1)"><path d="M1,0 C0.5,12 0.5,25 1,37 C3,32 5,26 7,26 C11,30 15,34 21,35.4 L21,1.3 C15,3 11,6 7,11 C5,11 3,5 1,0 Z" fill="#fff" stroke="#7a2816" stroke-width="1.4"/><path d="M8.5,1.5 L12,5 M8.5,35.5 L12,31" stroke="#7a2816" stroke-width="2.4"/></g>
<rect x="1037.4" y="781.2" width="64.5" height="100.4" fill="#fff" stroke="#7a2816" stroke-width="1.3" />
<text x="680" y="553.8" font-family='"Liberation Sans", sans-serif' font-size="20" fill="#7a2816" font-weight="normal">Kjøkken</text>
<text x="680" y="571.5" font-family='"Liberation Sans", sans-serif' font-size="15" fill="#7a2816" font-weight="normal">6,7 m<tspan font-size="10" dy="-6">2</tspan></text>
<text x="940.8" y="554" font-family='"Liberation Sans", sans-serif' font-size="20" fill="#7a2816" font-weight="normal">HCWC</text>
<text x="940.8" y="572" font-family='"Liberation Sans", sans-serif' font-size="15" fill="#7a2816" font-weight="normal">5,6 m<tspan font-size="10" dy="-6">2</tspan></text>
<text x="1183" y="535" font-family='"Liberation Sans", sans-serif' font-size="20" fill="#7a2816" font-weight="normal">WC</text>
<text x="1184" y="552.5" font-family='"Liberation Sans", sans-serif' font-size="15" fill="#7a2816" font-weight="normal">1,9 m<tspan font-size="10" dy="-6">2</tspan></text>
<text x="899.7" y="673.5" font-family='"Liberation Sans", sans-serif' font-size="19.5" fill="#111" font-weight="bold">FELLES</text>
<text x="906" y="696.8" font-family='"Liberation Sans", sans-serif' font-size="19.5" fill="#111" font-weight="bold">80,0 m<tspan font-size="12.5" dy="-8">2</tspan></text>
<text x="723.3" y="721.8" font-family='"Liberation Sans", sans-serif' font-size="19.5" fill="#7a2816" font-weight="normal">Selskapsrom</text>
<text x="723.3" y="739.5" font-family='"Liberation Sans", sans-serif' font-size="15" fill="#7a2816" font-weight="normal">63,6 m<tspan font-size="10" dy="-6">2</tspan></text>
<text x="838.8" y="1159.7" font-family='"Liberation Sans", sans-serif' font-size="19.5" fill="#7a2816" font-weight="normal">Terasse</text>
<text x="838.8" y="1178.5" font-family='"Liberation Sans", sans-serif' font-size="15" fill="#7a2816" font-weight="normal">40,6 m<tspan font-size="10" dy="-6">2</tspan></text>
<path d="M281.5,328.5 C312.9,447.5 370.0,489.0 471.3,536.4" fill="none" stroke="#7d6661" stroke-width="4" stroke-linecap="butt"/>
<path d="M789.5,216.0 C795.9,321.6 766.7,437.1 722.5,537.0" fill="none" stroke="#7d6661" stroke-width="4" stroke-linecap="butt"/>
<path d="M1085.0,377.5 C1098.4,421.2 1100.0,456.1 1084.5,483.8" fill="none" stroke="#7d6661" stroke-width="4" stroke-linecap="butt"/>
<path d="M226.0,732.5 C293.3,713.9 339.7,706.1 376.0,748.8" fill="none" stroke="#7d6661" stroke-width="4" stroke-linecap="butt"/>
<path d="M331.8,1078.8 C357.0,934.1 500.9,853.4 549.5,839.2" fill="none" stroke="#7d6661" stroke-width="4" stroke-linecap="butt"/>
<path d="M613.0,1853.7 C586.9,1757.6 583.6,1510.5 596.0,1412.2 C606.2,1331.1 675.7,943.0 928.0,816.6" fill="none" stroke="#7d6661" stroke-width="3" stroke-linecap="butt"/>
<path d="M939.2,1427.4 C906.9,1322.9 852.1,1264.6 757.6,1224.7" fill="none" stroke="#7d6661" stroke-width="4" stroke-linecap="butt"/>
<path d="M455.8,1455.5 C415.7,1568.0 368.3,1581.3 316.2,1590.6" fill="none" stroke="#7d6661" stroke-width="3.5" stroke-linecap="butt"/>
<text x="605.5" y="135.5" font-family='"Liberation Sans", sans-serif' font-size="38.5" fill="#1e1e1c" stroke="#1e1e1c" stroke-width="0.9" textLength="74.5" lengthAdjust="spacingAndGlyphs">Boeuf</text>
<text x="693.8" y="135.5" font-family='"Liberation Sans", sans-serif' font-size="38.5" fill="#1e1e1c" stroke="#1e1e1c" stroke-width="0.9" textLength="171.2" lengthAdjust="spacingAndGlyphs">bourguignon</text>
<text x="875.8" y="135.5" font-family='"Liberation Sans", sans-serif' font-size="38.5" fill="#1e1e1c" stroke="#1e1e1c" stroke-width="0.3" textLength="31.0" lengthAdjust="spacingAndGlyphs">til</text>
<text x="631.3" y="185" font-family='"Liberation Sans", sans-serif' font-size="38.5" fill="#1e1e1c" stroke="#1e1e1c" stroke-width="0.9" textLength="31.2" lengthAdjust="spacingAndGlyphs">25</text>
<text x="673.8" y="185" font-family='"Liberation Sans", sans-serif' font-size="38.5" fill="#1e1e1c" stroke="#1e1e1c" stroke-width="0.9" textLength="206.2" lengthAdjust="spacingAndGlyphs">bursdagsgjester</text>
<text x="138.8" y="255" font-family='"Liberation Sans", sans-serif' font-size="38.5" fill="#1e1e1c" stroke="#1e1e1c" stroke-width="0.9" textLength="66.2" lengthAdjust="spacingAndGlyphs">Sofa,</text>
<text x="215" y="255" font-family='"Liberation Sans", sans-serif' font-size="38.5" fill="#1e1e1c" stroke="#1e1e1c" stroke-width="0.9" textLength="76.3" lengthAdjust="spacingAndGlyphs">vafler</text>
<text x="302.5" y="255" font-family='"Liberation Sans", sans-serif' font-size="38.5" fill="#1e1e1c" stroke="#1e1e1c" stroke-width="0.9" textLength="31.3" lengthAdjust="spacingAndGlyphs">og</text>
<text x="343.8" y="255" font-family='"Liberation Sans", sans-serif' font-size="38.5" fill="#1e1e1c" stroke="#1e1e1c" stroke-width="0.9" textLength="77.5" lengthAdjust="spacingAndGlyphs">kakao</text>
<text x="102" y="306.3" font-family='"Liberation Sans", sans-serif' font-size="38.5" fill="#1e1e1c" stroke="#1e1e1c" stroke-width="0.9" textLength="65.5" lengthAdjust="spacingAndGlyphs">etter</text>
<text x="176.3" y="306.3" font-family='"Liberation Sans", sans-serif' font-size="38.5" fill="#1e1e1c" stroke="#1e1e1c" stroke-width="0.9" textLength="38.7" lengthAdjust="spacingAndGlyphs">tur</text>
<text x="225" y="306.3" font-family='"Liberation Sans", sans-serif' font-size="38.5" fill="#1e1e1c" stroke="#1e1e1c" stroke-width="0.9" textLength="76.3" lengthAdjust="spacingAndGlyphs">rundt</text>
<text x="311.3" y="306.3" font-family='"Liberation Sans", sans-serif' font-size="38.5" fill="#1e1e1c" stroke="#1e1e1c" stroke-width="0.9" textLength="149.7" lengthAdjust="spacingAndGlyphs">Jåttånuten</text>
<text x="976.3" y="311" font-family='"Liberation Sans", sans-serif' font-size="38.5" fill="#1e1e1c" stroke="#1e1e1c" stroke-width="0.9" textLength="137.5" lengthAdjust="spacingAndGlyphs">Garderobe</text>
<text x="1120.8" y="311" font-family='"Liberation Sans", sans-serif' font-size="38.5" fill="#1e1e1c" stroke="#1e1e1c" stroke-width="0.3" textLength="29.7" lengthAdjust="spacingAndGlyphs">til</text>
<text x="913" y="361" font-family='"Liberation Sans", sans-serif' font-size="38.5" fill="#1e1e1c" stroke="#1e1e1c" stroke-width="0.9" textLength="54.5" lengthAdjust="spacingAndGlyphs">alle</text>
<text x="975" y="361" font-family='"Liberation Sans", sans-serif' font-size="38.5" fill="#1e1e1c" stroke="#1e1e1c" stroke-width="0.9" textLength="52.5" lengthAdjust="spacingAndGlyphs">med</text>
<text x="1037" y="361" font-family='"Liberation Sans", sans-serif' font-size="38.5" fill="#1e1e1c" stroke="#1e1e1c" stroke-width="0.9" textLength="56.8" lengthAdjust="spacingAndGlyphs">hatt</text>
<text x="1103.8" y="361" font-family='"Liberation Sans", sans-serif' font-size="38.5" fill="#1e1e1c" stroke="#1e1e1c" stroke-width="0.9" textLength="32.5" lengthAdjust="spacingAndGlyphs">og</text>
<text x="1143.8" y="361" font-family='"Liberation Sans", sans-serif' font-size="38.5" fill="#1e1e1c" stroke="#1e1e1c" stroke-width="0.9" textLength="68.7" lengthAdjust="spacingAndGlyphs">frakk</text>
<text x="47.5" y="665" font-family='"Liberation Sans", sans-serif' font-size="38.5" fill="#1e1e1c" stroke="#1e1e1c" stroke-width="0.9" textLength="135.0" lengthAdjust="spacingAndGlyphs">Cupfinale</text>
<text x="10" y="714.5" font-family='"Liberation Sans", sans-serif' font-size="38.5" fill="#1e1e1c" stroke="#1e1e1c" stroke-width="0.9" textLength="87.5" lengthAdjust="spacingAndGlyphs">Viking</text>
<text x="110" y="714.5" font-family='"Liberation Sans", sans-serif' font-size="38.5" fill="#1e1e1c" stroke="#1e1e1c" stroke-width="0.9" textLength="16.3" lengthAdjust="spacingAndGlyphs">–</text>
<text x="138.8" y="714.5" font-family='"Liberation Sans", sans-serif' font-size="38.5" fill="#1e1e1c" stroke="#1e1e1c" stroke-width="0.9" textLength="80.0" lengthAdjust="spacingAndGlyphs">Bryne</text>
<text x="22.5" y="765" font-family='"Liberation Sans", sans-serif' font-size="38.5" fill="#1e1e1c" stroke="#1e1e1c" stroke-width="0.9" textLength="33.8" lengthAdjust="spacingAndGlyphs">på</text>
<text x="65" y="765" font-family='"Liberation Sans", sans-serif' font-size="38.5" fill="#1e1e1c" stroke="#1e1e1c" stroke-width="0.9" textLength="137" lengthAdjust="spacingAndGlyphs">storskjerm:</text>
<text x="76.3" y="814.5" font-family='"Liberation Sans", sans-serif' font-size="38.5" fill="#1e1e1c" stroke="#1e1e1c" stroke-width="0.9" textLength="16.2" lengthAdjust="spacingAndGlyphs">4</text>
<text x="102.5" y="814.5" font-family='"Liberation Sans", sans-serif' font-size="38.5" fill="#1e1e1c" stroke="#1e1e1c" stroke-width="0.9" textLength="8.8" lengthAdjust="spacingAndGlyphs">-</text>
<text x="122.5" y="814.5" font-family='"Liberation Sans", sans-serif' font-size="38.5" fill="#1e1e1c" stroke="#1e1e1c" stroke-width="0.9" textLength="26.3" lengthAdjust="spacingAndGlyphs">0!</text>
<text x="223.8" y="1141" font-family='"Liberation Sans", sans-serif' font-size="38.5" fill="#1e1e1c" stroke="#1e1e1c" stroke-width="0.9" textLength="153.7" lengthAdjust="spacingAndGlyphs">Vinsmaking</text>
<text x="387.5" y="1141" font-family='"Liberation Sans", sans-serif' font-size="38.5" fill="#1e1e1c" stroke="#1e1e1c" stroke-width="0.9" textLength="53.8" lengthAdjust="spacingAndGlyphs">med</text>
<text x="240" y="1190.5" font-family='"Liberation Sans", sans-serif' font-size="38.5" fill="#1e1e1c" stroke="#1e1e1c" stroke-width="0.9" textLength="185" lengthAdjust="spacingAndGlyphs">Heime-Martin</text>
<text x="314.5" y="1376" font-family='"Liberation Sans", sans-serif' font-size="38.5" fill="#1e1e1c" stroke="#1e1e1c" stroke-width="0.9" textLength="161.8" lengthAdjust="spacingAndGlyphs">Morgenyoga</text>
<text x="484.5" y="1376" font-family='"Liberation Sans", sans-serif' font-size="38.5" fill="#1e1e1c" stroke="#1e1e1c" stroke-width="0.9" textLength="54.3" lengthAdjust="spacingAndGlyphs">med</text>
<text x="327.5" y="1427.5" font-family='"Liberation Sans", sans-serif' font-size="38.5" fill="#1e1e1c" stroke="#1e1e1c" stroke-width="0.9" textLength="197.0" lengthAdjust="spacingAndGlyphs">friskusgjengen</text>
<text x="843" y="1485" font-family='"Liberation Sans", sans-serif' font-size="38.5" fill="#1e1e1c" stroke="#1e1e1c" stroke-width="0.9" textLength="184.5" lengthAdjust="spacingAndGlyphs">Forfriskninger</text>
<text x="1037.5" y="1485" font-family='"Liberation Sans", sans-serif' font-size="38.5" fill="#1e1e1c" stroke="#1e1e1c" stroke-width="0.9" textLength="55.5" lengthAdjust="spacingAndGlyphs">med</text>
<text x="868.8" y="1533.8" font-family='"Liberation Sans", sans-serif' font-size="38.5" fill="#1e1e1c" stroke="#1e1e1c" stroke-width="0.9" textLength="197.5" lengthAdjust="spacingAndGlyphs">drivhusgruppa</text>
<text x="495" y="1915.5" font-family='"Liberation Sans", sans-serif' font-size="38.5" fill="#1e1e1c" stroke="#1e1e1c" stroke-width="0.9" textLength="61.3" lengthAdjust="spacingAndGlyphs">Feire</text>
<text x="566.3" y="1915.5" font-family='"Liberation Sans", sans-serif' font-size="38.5" fill="#1e1e1c" stroke="#1e1e1c" stroke-width="0.9" textLength="51.2" lengthAdjust="spacingAndGlyphs">med</text>
<text x="627.5" y="1915.5" font-family='"Liberation Sans", sans-serif' font-size="38.5" fill="#1e1e1c" stroke="#1e1e1c" stroke-width="0.9" textLength="122.5" lengthAdjust="spacingAndGlyphs">langbord</text>
<text x="503.8" y="1966" font-family='"Liberation Sans", sans-serif' font-size="38.5" fill="#1e1e1c" stroke="#1e1e1c" stroke-width="0.9" textLength="58.7" lengthAdjust="spacingAndGlyphs">eller</text>
<text x="572.5" y="1966" font-family='"Liberation Sans", sans-serif' font-size="38.5" fill="#1e1e1c" stroke="#1e1e1c" stroke-width="0.9" textLength="83.8" lengthAdjust="spacingAndGlyphs">runde</text>
<text x="663.8" y="1966" font-family='"Liberation Sans", sans-serif' font-size="38.5" fill="#1e1e1c" stroke="#1e1e1c" stroke-width="0.9" textLength="73.7" lengthAdjust="spacingAndGlyphs">bord?</text>
<text x="557.5" y="2017" font-family='"Liberation Sans", sans-serif' font-size="38.5" fill="#1e1e1c" stroke="#1e1e1c" stroke-width="0.9" textLength="52.5" lengthAdjust="spacingAndGlyphs">Ditt</text>
<text x="620" y="2017" font-family='"Liberation Sans", sans-serif' font-size="38.5" fill="#1e1e1c" stroke="#1e1e1c" stroke-width="0.9" textLength="64.5" lengthAdjust="spacingAndGlyphs">valg.</text></svg>
</body></html>
